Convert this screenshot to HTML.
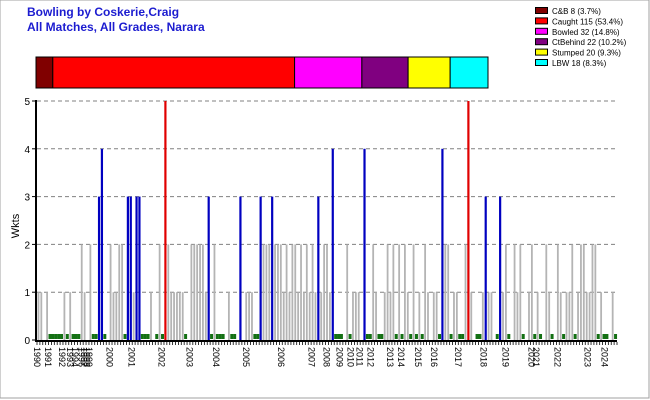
<!DOCTYPE html>
<html><head><meta charset="utf-8"><style>
html,body{margin:0;padding:0;background:#fff}
svg{display:block;font-family:"Liberation Sans",Arial,sans-serif}
</style></head><body>
<svg id="chart" width="650" height="400" viewBox="0 0 650 400">
<rect x="0" y="0" width="649" height="398" fill="#fff" stroke="#a0a0a0"/>
<text x="27" y="16" font-size="12" font-weight="bold" fill="#1c1cd0">Bowling by Coskerie,Craig</text>
<text x="27" y="31" font-size="12" font-weight="bold" fill="#1c1cd0">All Matches, All Grades, Narara</text>
<g id="dist"></g>
<g id="legend"></g>
<g id="grid"></g>
<g id="bars"></g>
<g id="axes"></g>
<text transform="translate(19,226) rotate(-90)" text-anchor="middle" font-size="11" fill="#000">Wkts</text>
</svg>
<script>
const dismissTypes = ["C&B", "Caught", "Bowled", "CtBehind", "Stumped", "LBW"];
const dismissCounts = [8, 115, 32, 22, 20, 18];
const dismissPct = ["3.7%", "53.4%", "14.8%", "10.2%", "9.3%", "8.3%"];
const dismissColors = ["#800000", "#ff0000", "#ff00ff", "#800080", "#ffff00", "#00ffff"];
const inningsNo = [0,1,3,4,5,6,7,8,9,10,11,12,13,14,15,16,18,19,20,21,22,23,25,26,27,28,29,30,31,32,
 33,34,35,36,37,38,39,41,42,43,44,45,46,47,48,49,50,51,53,54,55,56,57,58,59,60,61,62,63,64,
 66,67,68,70,72,73,74,75,76,77,78,79,80,81,82,83,84,85,86,87,88,89,90,91,92,93,94,95,96,97,98,
 99,100,101,102,103,104,105,107,108,109,110,111,113,114,115,116,117,118,119,120,121,122,123,124,125,126,127,128,129,130,131,132,
 133,134,135,137,138,139,140,141,142,143,144,145,146,147,148,149,150,152,153,154,155,156,157,159,160,161,162,163,165,
 166,167,168,170,171,172,173,174,176,177,178,180,181,182,183,184,185,186,187,188,189,190,191,192,193,194,195,196,197,199,200];
const wkts = [1,1,1,0,0,0,0,0,1,0,1,0,0,0,2,1,2,0,0,3,4,0,2,1,1,2,2,0,3,3,
 1,3,3,0,0,0,1,0,2,0,5,2,1,1,1,1,1,0,2,2,2,2,2,1,3,0,2,0,0,0,
 1,0,0,3,1,1,1,0,0,3,2,2,2,3,2,2,2,1,2,1,2,2,1,2,1,2,1,2,1,3,1,
 2,2,1,4,0,0,0,2,0,1,1,1,4,0,0,2,1,0,0,1,2,1,2,0,2,0,2,1,0,2,0,1,
 0,2,1,1,1,0,4,2,2,0,1,1,0,0,2,5,1,0,0,1,3,1,1,0,3,1,2,0,2,
 1,2,0,1,2,0,1,0,2,1,0,2,1,0,1,1,2,0,1,2,2,1,1,2,2,0,1,0,0,1,0];
const yearLabels = ["1990","1991","1992","1993","1994","1996","1997","1998","1999","2000","2001","2002","2003","2004","2005","2006","2007","2008","2009","2010","2011","2012","2013","2014","2015","2016","2017","2018","2019","2020","2021","2022","2023","2024"];
const yearPos = [0,3.8,8.6,11.4,13.1,15.4,16.3,17.2,18.1,25.2,32.8,43.1,52.8,62,72.4,84.5,95.2,100.3,104.8,108.6,111.7,115.5,122.4,126.2,132,137.6,145.9,154.8,162.4,171.4,172.9,180.3,190.7,196.6];
const yTicks = [0,1,2,3,4,5];
const slotCount = 201;

const NS = "http://www.w3.org/2000/svg";
function mk(tag, attrs, parent){const e=document.createElementNS(NS,tag);for(const k in attrs)e.setAttribute(k,attrs[k]);parent.appendChild(e);return e;}
const X0=37, X1=617, Y0=340, Y1=101;
function xScale(i){return X0 + (i+0.5)*(X1-X0)/slotCount;}
function xLab(p){return X0 + p*(X1-X0)/slotCount;}
function yScale(v){return Y0 - v*(Y0-Y1)/5;}

const dist=document.getElementById('dist');
const total=dismissCounts.reduce((a,b)=>a+b,0);
let cx=36; const DW=452;
dismissCounts.forEach((c,i)=>{
  const w=c/total*DW;
  const r=mk('rect',{x:cx,y:57,width:w,height:31,fill:dismissColors[i],stroke:'#000','stroke-width':1},dist);
  
  
  cx+=w;
});
const lg=document.getElementById('legend');
dismissTypes.forEach((t,i)=>{
  const y=7+i*10.4;
  const g=mk('g',{},lg);
  
  
  mk('rect',{x:535.5,y:y+0.5,width:12,height:6,fill:dismissColors[i],stroke:'#000','stroke-width':1},g);
  const tx=mk('text',{x:552,y:y+7,'font-size':8,fill:'#000'},g);
  tx.textContent=t+' '+dismissCounts[i]+' ('+dismissPct[i]+')';
});
const grid=document.getElementById('grid'), axes=document.getElementById('axes');
yTicks.forEach(v=>{
  const y=yScale(v);
  if(v>0){const l=mk('line',{x1:X0,x2:X1,y1:y,y2:y,stroke:'#808080','stroke-dasharray':'4,3','stroke-width':1},grid);
  
  }
  mk('line',{x1:32,x2:36,y1:y,y2:y,stroke:'#000'},axes);
  const t=mk('text',{x:30,y:y+4,'text-anchor':'end','font-size':10,fill:'#000'},axes);
  
  
  t.textContent=v;
});
const bars=document.getElementById('bars');
wkts.forEach((v,k)=>{
  if(v===null) return;
  const x=xScale(inningsNo[k]);
  let el;
  if(v===0){
    el=mk('rect',{x:x-1.5,y:334,width:3,height:5,fill:'#137013'},bars);
  } else {
    const col = v>=5 ? '#e00000' : (v>=3 ? '#0000c0' : '#b4b4b4');
    const w = v>=3 ? 2.2 : 1.8;
    el=mk('rect',{x:x-w/2,y:yScale(v),width:w,height:Y0-yScale(v),fill:col},bars);
  }
  
  
});
mk('line',{x1:36,x2:36,y1:Y1-1,y2:Y0+1,stroke:'#000','stroke-width':2},axes);
mk('line',{x1:35,x2:X1,y1:Y0+1,y2:Y0+1,stroke:'#000','stroke-width':2},axes);
for(let i=0;i<=slotCount;i++){const x=xLab(i);mk('line',{x1:x,x2:x,y1:Y0+2,y2:Y0+5,stroke:'#000','stroke-width':0.8},axes);}
yearLabels.forEach((lab,i)=>{
  const x=xLab(yearPos[i]);
  const t=mk('text',{transform:'translate('+(x-3)+',347) rotate(90)','font-size':9,fill:'#000'},axes);
  
  
  t.textContent=lab;
});
</script>
</body></html>
